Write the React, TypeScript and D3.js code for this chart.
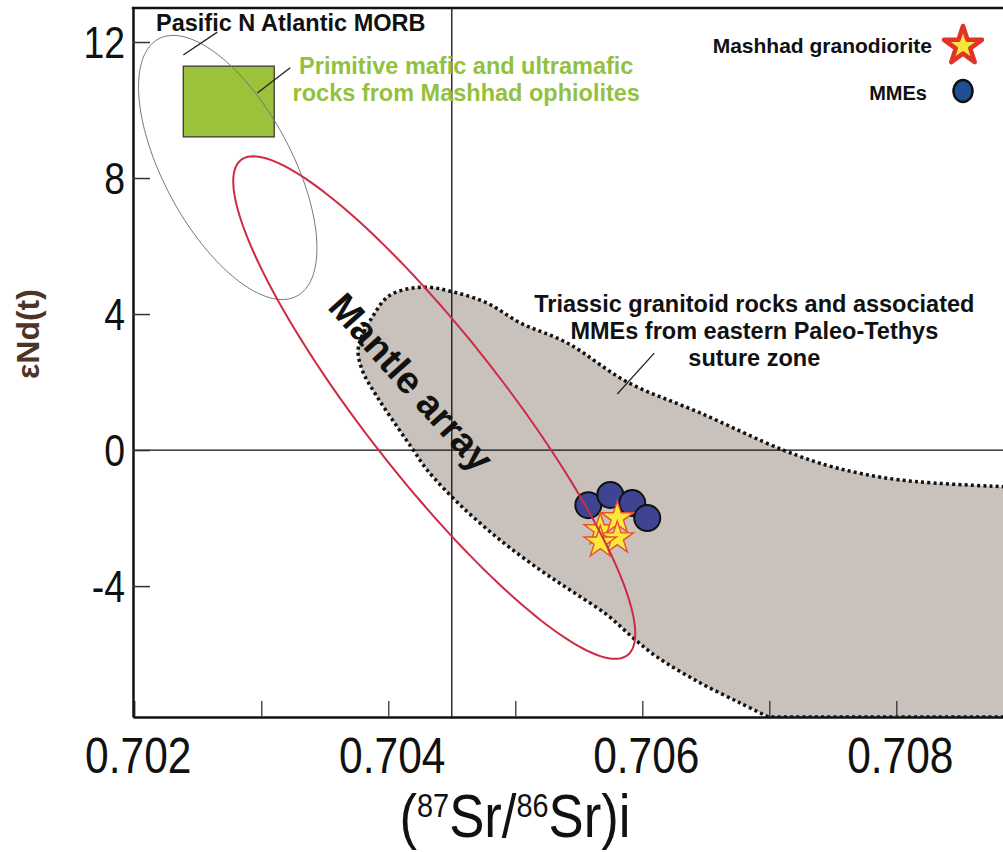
import React, { useEffect, useRef } from 'react';
import * as d3 from 'd3';

const WIDTH = 1003;
const HEIGHT = 852;

// axes
const xDomain = [0.70199, 0.70884];
const yDomain = [-7.85, 13];
const xTickValues = [0.702, 0.703, 0.704, 0.705, 0.706, 0.707, 0.708];
const xLabelValues = [0.702, 0.704, 0.706, 0.708];
const xLabelTexts = ['0.702', '0.704', '0.706', '0.708'];
const yTickValues = [12, 8, 4, 0, -4];
const yLabelTexts = ['12', '8', '4', '0', '-4'];
const refSr = 0.7045;
const refNd = 0;

// samples
const granodioriteSr = [0.705669, 0.705803, 0.705803, 0.705669];
const granodioriteNd = [-2.35, -2.0, -2.59, -2.71];
const mmeSr = [0.705575, 0.705748, 0.705921, 0.706039];
const mmeNd = [-1.62, -1.32, -1.56, -2.0];

// Pacific / N Atlantic MORB field (centre, end of major axis, end of minor axis)
const morbCenter = [0.702736, 8.31];
const morbMajorEnd = [0.703281, 4.53];
const morbMinorEnd = [0.702293, 7.42];

// mantle array
const mantleCenter = [0.704362, 1.25];
const mantleMajorEnd = [0.705884, -6.03];
const mantleMinorEnd = [0.703928, -0.02];

// ophiolite box
const ophioliteSr = [0.702386, 0.703102];
const ophioliteNd = [9.21, 11.29];

// Triassic granitoid field outline
const triassicSr = [0.7090, 0.708031, 0.707504, 0.70711, 0.706457, 0.705882, 0.705409, 0.705039, 0.70478,
  0.704512, 0.704276, 0.704016, 0.703874, 0.703764, 0.703795, 0.703913, 0.704071, 0.704197, 0.704307,
  0.704567, 0.704882, 0.705197, 0.705457, 0.705724, 0.705929, 0.706118, 0.706457, 0.706772, 0.706992];
const triassicNd = [-1.1, -0.88, -0.5, 0, 1.09, 2.0, 3.15, 3.74, 4.32,
  4.65, 4.79, 4.56, 3.91, 3.0, 2.35, 1.56, 0.68, 0, -0.59,
  -1.62, -2.65, -3.53, -4.18, -4.85, -5.53, -6.09, -6.85, -7.44, -7.85];

const App: React.FC = () => {
  const svgRef = useRef<SVGSVGElement>(null);

  useEffect(() => {
    if (!svgRef.current) return;
    const svg = d3.select(svgRef.current);
    svg.selectAll('*').remove();

    const x = d3.scaleLinear().domain(xDomain).range([133, 1003]);
    const y = d3.scaleLinear().domain(yDomain).range([717, 8]);
    const font = '"Liberation Sans", Arial, Helvetica, sans-serif';

    svg.append('defs').append('clipPath').attr('id', 'plot-clip')
      .append('rect').attr('x', 133).attr('y', 8).attr('width', 870).attr('height', 709);

    const plot = svg.append('g').attr('clip-path', 'url(#plot-clip)');

    // Triassic field
    const outline = triassicSr.map((s, i) => [x(s), y(triassicNd[i])] as [number, number]);
    const curve = d3.line().curve(d3.curveCatmullRom.alpha(0.5))(outline) as string;
    const last = outline[outline.length - 1];
    const bottomRight: [number, number] = [x(xDomain[1]) + 10, y(yDomain[0])];
    plot.append('path')
      .attr('d', `${curve}L${bottomRight[0]},${bottomRight[1]}L${bottomRight[0]},${outline[0][1]}Z`)
      .attr('fill', '#c9c1bb');

    // reference lines
    plot.append('line')
      .attr('x1', x(refSr)).attr('x2', x(refSr)).attr('y1', y(yDomain[1])).attr('y2', y(yDomain[0]))
      .attr('stroke', '#111').attr('stroke-width', 1.3);
    plot.append('line')
      .attr('x1', x(xDomain[0])).attr('x2', x(xDomain[1])).attr('y1', y(refNd)).attr('y2', y(refNd))
      .attr('stroke', '#111').attr('stroke-width', 1.3);

    // ophiolite box
    plot.append('rect')
      .attr('x', x(ophioliteSr[0])).attr('y', y(ophioliteNd[1]))
      .attr('width', x(ophioliteSr[1]) - x(ophioliteSr[0]))
      .attr('height', y(ophioliteNd[0]) - y(ophioliteNd[1]))
      .attr('fill', '#9cc23c').attr('stroke', '#3a3a3a').attr('stroke-width', 1.3);

    const ellipsePath = (c: number[], m: number[], n: number[]) => {
      const cx = x(c[0]), cy = y(c[1]);
      const ux = x(m[0]) - cx, uy = y(m[1]) - cy;
      const vx = x(n[0]) - cx, vy = y(n[1]) - cy;
      const pts = d3.range(0, 2 * Math.PI, Math.PI / 90).map(t =>
        [cx + Math.cos(t) * ux + Math.sin(t) * vx, cy + Math.cos(t) * uy + Math.sin(t) * vy] as [number, number]);
      return d3.line().curve(d3.curveLinearClosed)(pts) as string;
    };

    // MORB field
    plot.append('path')
      .attr('d', ellipsePath(morbCenter, morbMajorEnd, morbMinorEnd))
      .attr('fill', 'none').attr('stroke', '#777').attr('stroke-width', 1);

    // dotted outline of Triassic field
    plot.append('path')
      .attr('d', `${curve}L${bottomRight[0]},${last[1]}`)
      .attr('fill', 'none').attr('stroke', '#111').attr('stroke-width', 3.5)
      .attr('stroke-dasharray', '3,3.2');

    // leader lines
    const leaders = [
      [[0.702654, 12.29], [0.702386, 11.62]],
      [[0.703228, 11.24], [0.702969, 10.5]],
      [[0.706094, 2.85], [0.705803, 1.65]],
    ];
    leaders.forEach(([a, b]) => {
      plot.append('line')
        .attr('x1', x(a[0])).attr('y1', y(a[1])).attr('x2', x(b[0])).attr('y2', y(b[1]))
        .attr('stroke', '#222').attr('stroke-width', 1.3);
    });

    // MMEs
    plot.selectAll('circle.mme')
      .data(mmeSr.map((s, i) => [s, mmeNd[i]]))
      .enter().append('circle')
      .attr('class', 'mme')
      .attr('cx', d => x(d[0])).attr('cy', d => y(d[1])).attr('r', 13)
      .attr('fill', '#3e4492').attr('stroke', '#111').attr('stroke-width', 2);

    // granodiorite
    const starSmall = d3.symbol().type(d3.symbolStar).size(17 * 17 / 0.8908);
    plot.selectAll('path.gd')
      .data(granodioriteSr.map((s, i) => [s, granodioriteNd[i]]))
      .enter().append('path')
      .attr('class', 'gd')
      .attr('d', starSmall() as string)
      .attr('transform', d => `translate(${x(d[0])},${y(d[1])})`)
      .attr('fill', '#fce83a').attr('stroke', '#e8502e').attr('stroke-width', 1.4);

    // mantle array
    plot.append('path')
      .attr('d', ellipsePath(mantleCenter, mantleMajorEnd, mantleMinorEnd))
      .attr('fill', 'none').attr('stroke', '#cf2a44').attr('stroke-width', 2);

    // axes
    const xAxis = d3.axisBottom(x).tickValues(xTickValues).tickSizeInner(-16).tickSizeOuter(0).tickFormat(() => '');
    const gx = svg.append('g').attr('transform', `translate(0,${y(yDomain[0])})`).call(xAxis as any);
    gx.select('.domain').attr('stroke', '#111').attr('stroke-width', 2.5);
    gx.selectAll('.tick line').attr('stroke', '#333').attr('stroke-width', 1.3);

    const yAxis = d3.axisLeft(y).tickValues(yTickValues).tickSizeInner(-17).tickSizeOuter(0).tickFormat(() => '');
    const gy = svg.append('g').attr('transform', `translate(${x(xDomain[0])},0)`).call(yAxis as any);
    gy.select('.domain').attr('stroke', '#111').attr('stroke-width', 2.5);
    gy.selectAll('.tick line').attr('stroke', '#333').attr('stroke-width', 1.5);

    svg.append('line')
      .attr('x1', x(xDomain[0]) - 1.2).attr('x2', x(xDomain[1])).attr('y1', y(yDomain[1])).attr('y2', y(yDomain[1]))
      .attr('stroke', '#111').attr('stroke-width', 2.5);

    // tick labels (condensed)
    xLabelValues.forEach((v, i) => {
      svg.append('text')
        .attr('transform', `translate(${x(v) + 4},${y(yDomain[0]) + 56}) scale(0.85,1)`)
        .attr('text-anchor', 'middle')
        .style('font-family', font).style('font-size', '50px').style('fill', '#111')
        .text(xLabelTexts[i]);
    });
    yTickValues.forEach((v, i) => {
      svg.append('text')
        .attr('transform', `translate(${x(xDomain[0]) - 8},${y(v) + 16}) scale(0.85,1)`)
        .attr('text-anchor', 'end')
        .style('font-family', font).style('font-size', '44px').style('fill', '#111')
        .text(yLabelTexts[i]);
    });

    // axis titles
    const xt = svg.append('text')
      .attr('transform', `translate(515,837) scale(0.85,1)`)
      .attr('text-anchor', 'middle')
      .style('font-family', font).style('font-size', '62px').style('fill', '#111');
    xt.append('tspan').text('(');
    xt.append('tspan').attr('dy', -20).style('font-size', '34px').text('87');
    xt.append('tspan').attr('dy', 20).text('Sr/');
    xt.append('tspan').attr('dy', -20).style('font-size', '34px').text('86');
    xt.append('tspan').attr('dy', 20).text('Sr)i');

    svg.append('text')
      .attr('transform', 'translate(39,334) rotate(-90)')
      .attr('text-anchor', 'middle')
      .style('font-family', font).style('font-size', '32px').style('font-weight', 'bold')
      .style('fill', '#4e3426')
      .text('εNd(t)');

    // annotations
    const label = (sx: number, ny: number, lines: string[], color: string) => {
      const t = svg.append('text')
        .attr('x', x(sx)).attr('y', y(ny))
        .attr('text-anchor', 'middle')
        .style('font-family', font).style('font-size', '23.5px').style('font-weight', 'bold')
        .style('fill', color);
      lines.forEach((l, i) => {
        t.append('tspan').attr('x', x(sx)).attr('dy', i === 0 ? 0 : 27).text(l);
      });
    };
    label(0.703232, 12.32, ['Pasific N Atlantic MORB'], '#111');
    label(0.704614, 11.06, ['Primitive mafic and ultramafic', 'rocks from Mashhad ophiolites'], '#92c13e');
    label(0.706882, 4.06, ['Triassic granitoid rocks and associated', 'MMEs from eastern Paleo-Tethys', 'suture zone'], '#111');

    svg.append('text')
      .attr('transform', `translate(${x(0.704181)},${y(2.0)}) rotate(48)`)
      .attr('text-anchor', 'middle').attr('dy', '0.35em')
      .style('font-family', font).style('font-size', '38px').style('font-weight', 'bold').style('fill', '#111')
      .text('Mantle array');

    // legend
    const legend = svg.append('g');
    legend.append('text')
      .attr('x', 932).attr('y', 53).attr('text-anchor', 'end')
      .style('font-family', font).style('font-size', '21px').style('font-weight', 'bold').style('fill', '#111')
      .text('Mashhad granodiorite');
    legend.append('path')
      .attr('d', d3.symbol().type(d3.symbolStar).size(20 * 20 / 0.8908)() as string)
      .attr('transform', 'translate(963,46)')
      .attr('fill', '#f6e63c').attr('stroke', '#e0342a').attr('stroke-width', 4.5)
      .attr('stroke-linejoin', 'round');
    legend.append('text')
      .attr('x', 927).attr('y', 100).attr('text-anchor', 'end')
      .style('font-family', font).style('font-size', '20px').style('font-weight', 'bold').style('fill', '#111')
      .text('MMEs');
    legend.append('ellipse')
      .attr('cx', 963).attr('cy', 91).attr('rx', 9.5).attr('ry', 11)
      .attr('fill', '#1d4f93').attr('stroke', '#111').attr('stroke-width', 2.5);
  }, []);

  return (
    <svg
      ref={svgRef}
      width={WIDTH}
      height={HEIGHT}
      style={{ position: 'absolute', left: 0, top: 0, background: '#fff' }}
    />
  );
};

export default App;
